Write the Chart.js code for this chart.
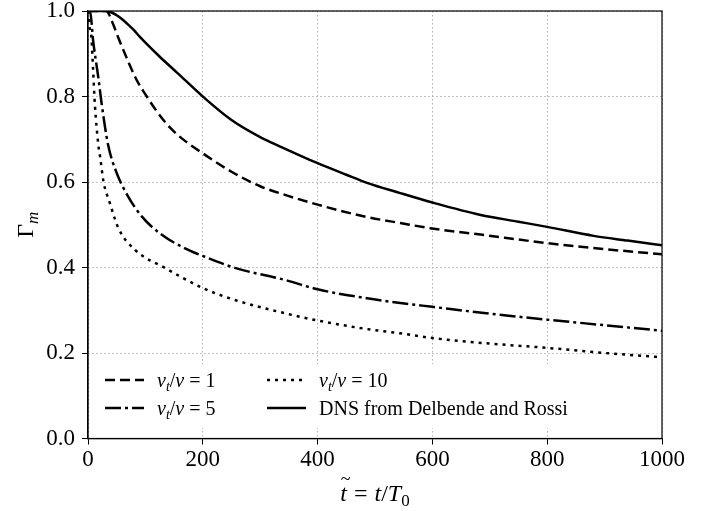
<!DOCTYPE html>
<html>
<head>
<meta charset="utf-8">
<script src="https://cdn.jsdelivr.net/npm/chart.js@4.4.1/dist/chart.umd.min.js"></script>
<style>
  html, body { margin: 0; padding: 0; background: #fff; }
  #wrap { width: 715px; height: 511px; position: relative; }
</style>
</head>
<body>
<div id="wrap"><canvas id="gamma-chart" width="715" height="511"></canvas></div>
<script>
// Data: Gamma_m vs t/T0
const xTicks = [0, 200, 400, 600, 800, 1000];
const yTicks = [0, 0.2, 0.4, 0.6, 0.8, 1.0];

const dnsX = [0, 10, 20, 30, 40, 50, 60, 70, 80, 90, 100, 125, 155, 200, 250, 300, 335, 400, 450, 486, 544, 600, 684, 750, 800, 881, 940, 1000];
const dnsY = [1, 1, 1, 1, 0.997, 0.99, 0.98, 0.968, 0.955, 0.94, 0.926, 0.893, 0.856, 0.80, 0.745, 0.705, 0.683, 0.644, 0.617, 0.598, 0.574, 0.552, 0.523, 0.507, 0.495, 0.474, 0.463, 0.452];

const nu1X = [0, 10, 20, 32, 42, 53, 70, 85, 100, 120, 143, 170, 200, 250, 300, 350, 400, 486, 544, 596, 684, 800, 900, 1000];
const nu1Y = [1, 1, 1, 1, 0.975, 0.937, 0.882, 0.838, 0.805, 0.765, 0.727, 0.695, 0.667, 0.624, 0.59, 0.567, 0.547, 0.518, 0.504, 0.492, 0.477, 0.457, 0.443, 0.431];

const nu5X = [0, 3.5, 9, 18, 24, 35, 50, 70, 94, 128, 169, 200, 256, 343, 400, 486, 544, 600, 700, 800, 900, 1000];
const nu5Y = [1, 1, 0.93, 0.844, 0.781, 0.687, 0.621, 0.566, 0.519, 0.477, 0.445, 0.427, 0.399, 0.371, 0.349, 0.328, 0.317, 0.308, 0.292, 0.278, 0.265, 0.252];

const nu10X = [0, 3, 6, 9, 12, 18, 21, 27, 38, 53, 82, 134, 200, 256, 343, 400, 486, 544, 600, 700, 800, 900, 1000];
const nu10Y = [1, 0.96, 0.938, 0.859, 0.781, 0.687, 0.66, 0.601, 0.551, 0.492, 0.441, 0.399, 0.352, 0.324, 0.293, 0.276, 0.256, 0.246, 0.235, 0.222, 0.212, 0.2, 0.19];

const SERIF = '"Liberation Serif", "DejaVu Serif", serif';
const LW = 2.5;
const DASHED = [10, 5];
const DASHDOT = [16, 4, 3, 4];
const DOTTED = [3, 5];

const toPoints = (xs, ys) => xs.map((x, i) => ({ x: x, y: ys[i] }));

// draws a run of text pieces, each with its own font and vertical shift
const richWidth = (ctx, parts) => parts.reduce((w, p) => {
    if (p.gap) return w + p.gap;
    ctx.font = p.font;
    return w + ctx.measureText(p.t).width;
}, 0);

const drawRich = (ctx, parts, x, y) => {
    let cx = x;
    const pos = [];
    parts.forEach(p => {
        if (p.gap) { cx += p.gap; return; }
        ctx.font = p.font;
        ctx.fillText(p.t, cx, y + (p.dy || 0));
        const w = ctx.measureText(p.t).width;
        pos.push({ x: cx, w: w });
        cx += w;
    });
    return pos;
};

const it = s => `italic ${s}px ${SERIF}`;
const rm = s => `${s}px ${SERIF}`;

const nuLabel = n => [
    { t: 'ν', font: it(20) },
    { t: 't', font: it(14), dy: 4 },
    { t: '/', font: rm(20) },
    { t: 'ν', font: it(20) },
    { gap: 5 },
    { t: '=', font: rm(20) },
    { gap: 5 },
    { t: String(n), font: rm(20) }
];

const legendItems = [
    { dash: DASHED, parts: nuLabel(1), x: 105, y: 380 },
    { dash: DOTTED, parts: nuLabel(10), x: 267, y: 380 },
    { dash: DASHDOT, parts: nuLabel(5), x: 105, y: 408 },
    { dash: [], parts: [{ t: 'DNS from Delbende and Rossi', font: rm(20) }], x: 267, y: 408 }
];

const decorPlugin = {
    id: 'decor',
    afterDraw(chart) {
        const ctx = chart.ctx;
        const a = chart.chartArea;
        ctx.save();

        // full frame (top and right spines too)
        ctx.strokeStyle = '#000';
        ctx.lineWidth = 1.2;
        ctx.setLineDash([]);
        ctx.strokeRect(a.left, a.top, a.right - a.left, a.bottom - a.top);

        // legend, white box without edge
        ctx.fillStyle = '#fff';
        ctx.fillRect(97, 364, 486, 64);
        ctx.fillStyle = '#000';
        ctx.textBaseline = 'alphabetic';
        ctx.textAlign = 'left';
        legendItems.forEach(item => {
            ctx.beginPath();
            ctx.setLineDash(item.dash);
            ctx.lineWidth = LW;
            ctx.strokeStyle = '#000';
            ctx.moveTo(item.x, item.y);
            ctx.lineTo(item.x + 39, item.y);
            ctx.stroke();
            ctx.setLineDash([]);
            drawRich(ctx, item.parts, item.x + 52, item.y + 7);
        });

        // x title: t~ = t/T0
        const xParts = [
            { t: 't', font: it(24) },
            { gap: 7 },
            { t: '=', font: rm(24) },
            { gap: 7 },
            { t: 't', font: it(24) },
            { t: '/', font: rm(24) },
            { t: 'T', font: it(24) },
            { t: '0', font: rm(17), dy: 5 }
        ];
        const xw = richWidth(ctx, xParts);
        const xc = (a.left + a.right) / 2;
        const pos = drawRich(ctx, xParts, xc - xw / 2, 501);
        ctx.font = rm(18);
        ctx.textAlign = 'center';
        ctx.fillText('~', pos[0].x + pos[0].w / 2 + 2, 485);

        // y title: Gamma_m, rotated
        ctx.save();
        ctx.translate(33, (a.top + a.bottom) / 2);
        ctx.rotate(-Math.PI / 2);
        ctx.textAlign = 'left';
        const yParts = [
            { t: 'Γ', font: rm(24) },
            { t: 'm', font: it(17), dy: 5 }
        ];
        const yw = richWidth(ctx, yParts);
        drawRich(ctx, yParts, -yw / 2, 0);
        ctx.restore();

        ctx.restore();
    }
};

const lineSet = (label, pts, dash) => ({
    label: label,
    data: pts,
    borderColor: '#000',
    backgroundColor: '#000',
    borderWidth: LW,
    borderDash: dash,
    pointRadius: 0,
    fill: false,
    cubicInterpolationMode: 'monotone'
});

const gridOpts = {
    color: '#b0b0b0',
    lineWidth: 1,
    tickColor: '#000',
    tickLength: 6,
    tickWidth: 1,
    tickBorderDash: []
};

const ctx = document.getElementById('gamma-chart').getContext('2d');

new Chart(ctx, {
    type: 'line',
    data: {
        datasets: [
            lineSet('ν_t/ν = 1', toPoints(nu1X, nu1Y), DASHED),
            lineSet('ν_t/ν = 5', toPoints(nu5X, nu5Y), DASHDOT),
            lineSet('ν_t/ν = 10', toPoints(nu10X, nu10Y), DOTTED),
            lineSet('DNS from Delbende and Rossi', toPoints(dnsX, dnsY), [])
        ]
    },
    options: {
        responsive: false,
        animation: false,
        devicePixelRatio: 1,
        layout: { padding: { left: 0, right: 53, top: 11, bottom: 0 } },
        plugins: {
            legend: { display: false },
            tooltip: { enabled: false },
            title: { display: false }
        },
        scales: {
            x: {
                type: 'linear',
                min: 0,
                max: 1000,
                afterBuildTicks: scale => { scale.ticks = xTicks.map(v => ({ value: v })); },
                afterFit: scale => {
                    scale.height = 72.5;
                    scale.paddingLeft = 0;
                    scale.paddingRight = 0;
                },
                grid: gridOpts,
                border: { display: true, color: '#000', width: 1.2, dash: [1.5, 2.5] },
                ticks: {
                    color: '#000',
                    padding: 2,
                    maxRotation: 0,
                    font: { family: SERIF, size: 23 },
                    callback: v => String(v)
                }
            },
            y: {
                min: 0,
                max: 1,
                afterBuildTicks: scale => { scale.ticks = yTicks.map(v => ({ value: v })); },
                afterFit: scale => {
                    scale.width = 88;
                    scale.paddingTop = 0;
                    scale.paddingBottom = 0;
                },
                grid: gridOpts,
                border: { display: true, color: '#000', width: 1.2, dash: [1.5, 2.5] },
                ticks: {
                    color: '#000',
                    padding: 7,
                    font: { family: SERIF, size: 23 },
                    callback: v => v.toFixed(1)
                }
            }
        }
    },
    plugins: [decorPlugin]
});
</script>
</body>
</html>
